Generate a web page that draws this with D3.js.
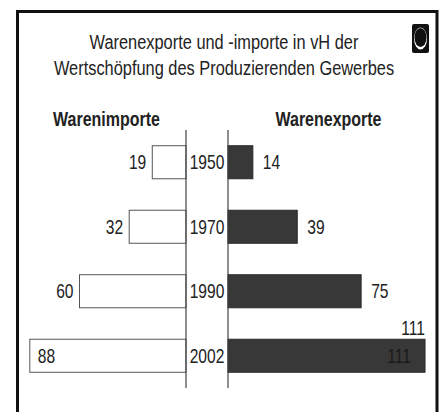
<!DOCTYPE html>
<html>
<head>
<meta charset="utf-8">
<script src="https://cdn.jsdelivr.net/npm/d3@7"></script>
<style>
  body { margin: 0; background: #fff; }
  svg { display: block; }
  text { font-family: "Liberation Sans", Arial, sans-serif; fill: #222; }
</style>
</head>
<body>
<svg></svg>
<script>
let years = ["1950", "1970", "1990", "2002"];
let imports = [19, 32, 60, 88];
let exports = [14, 39, 75, 111];
let titleLines = ["Warenexporte und -importe in vH der", "Wertschöpfung des Produzierenden Gewerbes"];
let headers = ["Warenimporte", "Warenexporte"];

let svgWidth = 444, svgHeight = 412;
let leftAxis = 186, rightAxis = 228;
let pxPerUnit = 1.775;
let narrow = 0.78; // squeeze Liberation Sans to a narrow face

let svg = d3.select("svg")
    .attr("width", svgWidth)
    .attr("height", svgHeight);

// place a text squeezed horizontally at (x, y)
function placeText(sel, x, y) {
    sel.attr("transform", (d, i) => `translate(${x(d, i)}, ${y(d, i)}) scale(${narrow}, 1)`);
}

// Frame (open at the bottom, runs off the picture)
svg.append("rect")
    .attr("x", 17.5)
    .attr("y", 11.5)
    .attr("width", 419.5)
    .attr("height", 420)
    .attr("fill", "none")
    .attr("stroke", "#111")
    .attr("stroke-width", 3);

// Title
svg.selectAll(".title")
    .data(titleLines)
    .enter()
    .append("text")
    .attr("class", "title")
    .attr("text-anchor", "middle")
    .attr("font-size", 21)
    .text(d => d)
    .call(placeText, () => 224, (d, i) => 48.5 + i * 26);

// Small icon top right
let icon = svg.append("g").attr("transform", "translate(412, 24)");
icon.append("rect").attr("width", 17).attr("height", 29).attr("rx", 2).attr("fill", "#111");
icon.append("ellipse").attr("cx", 8.5).attr("cy", 14.5).attr("rx", 6.5).attr("ry", 11).attr("fill", "#fff");
icon.append("ellipse").attr("cx", 8.5).attr("cy", 13.5).attr("rx", 6).attr("ry", 9.5).attr("fill", "#111");

// Column headers
svg.selectAll(".header")
    .data(headers)
    .enter()
    .append("text")
    .attr("class", "header")
    .attr("text-anchor", "middle")
    .attr("font-size", 20.5)
    .attr("font-weight", "bold")
    .text(d => d)
    .call(placeText, (d, i) => i == 0 ? 106.5 : 328.5, () => 125.5);

// Scales
let yScale = d3.scaleBand()
    .domain(years)
    .range([130, 388])
    .paddingInner(0.488)
    .paddingOuter(0.244);

let xLeft = d3.scaleLinear()
    .domain([0, 100])
    .range([leftAxis, leftAxis - 100 * pxPerUnit]);

let xRight = d3.scaleLinear()
    .domain([0, 100])
    .range([rightAxis, rightAxis + 100 * pxPerUnit]);

let midY = i => yScale(years[i]) + yScale.bandwidth() / 2;

// Import bars (white)
svg.selectAll(".imp")
    .data(imports)
    .enter()
    .append("rect")
    .attr("class", "imp")
    .attr("x", d => xLeft(d))
    .attr("y", (d, i) => yScale(years[i]))
    .attr("width", d => xLeft(0) - xLeft(d))
    .attr("height", yScale.bandwidth())
    .attr("fill", "#fff")
    .attr("stroke", "#555")
    .attr("stroke-width", 1);

// Export bars (dark)
svg.selectAll(".exp")
    .data(exports)
    .enter()
    .append("rect")
    .attr("class", "exp")
    .attr("x", xRight(0))
    .attr("y", (d, i) => yScale(years[i]))
    .attr("width", d => xRight(d) - xRight(0))
    .attr("height", yScale.bandwidth())
    .attr("fill", "#383838")
    .attr("stroke", "#2a2a2a")
    .attr("stroke-width", 1);

// Center lines
[leftAxis, rightAxis].forEach(x => {
    svg.append("line")
        .attr("x1", x).attr("x2", x)
        .attr("y1", yScale.range()[0])
        .attr("y2", yScale.range()[1])
        .attr("stroke", "#444")
        .attr("stroke-width", 1.2);
});

// Year labels
svg.selectAll(".year")
    .data(years)
    .enter()
    .append("text")
    .attr("class", "year")
    .attr("dy", "0.36em")
    .attr("text-anchor", "middle")
    .attr("font-size", 20)
    .text(d => d)
    .call(placeText, () => (leftAxis + rightAxis) / 2, (d, i) => midY(i));

// Import labels (last one sits inside the bar)
let last = years.length - 1;
svg.selectAll(".impLabel")
    .data(imports)
    .enter()
    .append("text")
    .attr("class", "impLabel")
    .attr("dy", "0.36em")
    .attr("text-anchor", (d, i) => i == last ? "start" : "end")
    .attr("font-size", 20)
    .text(d => d)
    .call(placeText, (d, i) => i == last ? xLeft(d) + 8 : xLeft(d) - 6, (d, i) => midY(i));

// Export labels (last one above the bar end)
svg.selectAll(".expLabel")
    .data(exports)
    .enter()
    .append("text")
    .attr("class", "expLabel")
    .attr("dy", (d, i) => i == last ? "0" : "0.36em")
    .attr("text-anchor", (d, i) => i == last ? "end" : "start")
    .attr("font-size", 20)
    .text(d => d)
    .call(placeText,
        (d, i) => i == last ? xRight(d) : xRight(d) + 10,
        (d, i) => i == last ? yScale(years[i]) - 4 : midY(i));

// faint dark label printed inside the last export bar
svg.append("text")
    .datum(exports[last])
    .attr("dy", "0.36em")
    .attr("text-anchor", "end")
    .attr("font-size", 20)
    .style("fill", "#1a1a1a")
    .text(d => d)
    .call(placeText, d => xRight(d) - 14, () => midY(last));
</script>
</body>
</html>
